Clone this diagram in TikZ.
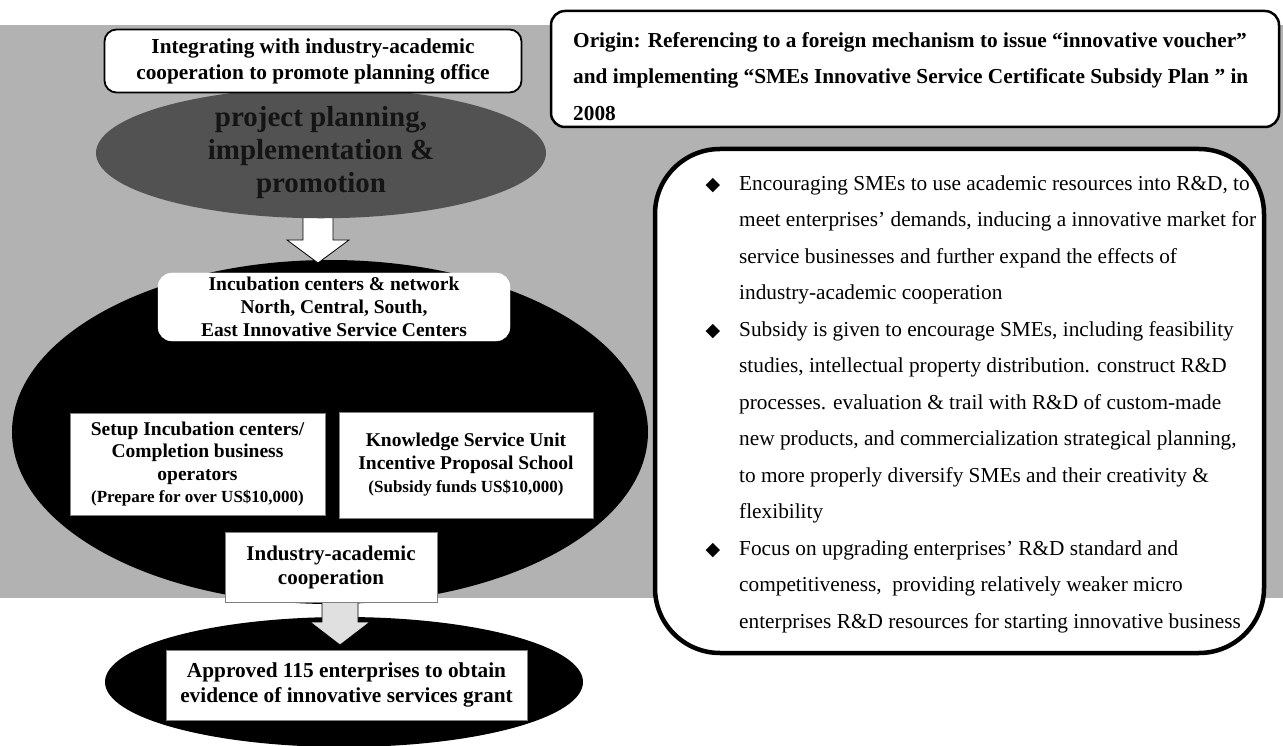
\documentclass[tikz,border=0pt]{standalone}
\usepackage{fontspec}
\setmainfont{Liberation Serif}
\newfontfamily\symfont{DejaVu Sans}
\usetikzlibrary{shapes.geometric}
\newcommand\myfs[2]{\fontsize{#1}{#2}\selectfont}
\newcommand\bul{\llap{{\symfont\fontsize{19}{19}\selectfont ◆}\hspace{19pt}}}
\newcommand\apo{\symbol{"0027}}
\begin{document}
\begin{tikzpicture}[x=1pt,y=-1pt,
  box/.style={draw=black, fill=white, align=center, inner sep=0pt, font=\bfseries},
  blockarrow/.style={draw=black, line width=0.8pt, line join=miter},
  darkell/.style={ellipse, inner sep=0pt, fill=black}]
\useasboundingbox (0,0) rectangle (1283,746);
\fill[white] (0,0) rectangle (1283,746);
% halftone background
\fill[black!30] (0,25) rectangle (1283,598);
% big black ellipse
\node[darkell, minimum width=636pt, minimum height=344pt] (incell) at (330,432) {};
% arrow 1
\coordinate (a1) at (318,205);
\draw[blockarrow, fill=white] (a1) ++(-15,0) -- ++(30,0) -- ++(0,35) -- ++(16,0) -- (318,263) -- (287,240) -- ++(16,0) -- cycle;
% planning ellipse
\node[darkell, fill=black!68, minimum width=450pt, minimum height=124pt, align=center,
      font=\bfseries\myfs{29}{33}, text=black!92] (plan) at (321,153)
  {project planning,\\implementation \&\\promotion};
% top box
\node[box, rounded corners=12pt, line width=1.8pt, minimum width=417pt, minimum height=63pt,
      font=\bfseries\myfs{21.3}{26}] (integ) at (313,61)
  {Integrating with industry-academic\\cooperation to promote planning office};
% incubation box
\node[box, draw=white, rounded corners=14pt, minimum width=352pt, minimum height=68pt,
      font=\bfseries\myfs{19.5}{23}] (incub) at (334,307)
  {Incubation centers \& network\\North, Central, South,\\East Innovative Service Centers};
% setup box
\node[box, draw=black!50, minimum width=255pt, minimum height=102pt,
      font=\bfseries\myfs{19.5}{22.5}] (setup) at (197.5,464)
  {Setup Incubation centers/\\Completion business\\operators\\{\myfs{17}{21}(Prepare for over US\$10,000)}};
% knowledge box
\node[box, draw=black!50, minimum width=254pt, minimum height=106pt,
      font=\bfseries\myfs{19.5}{23}] (know) at (466,465)
  {Knowledge Service Unit\\Incentive Proposal School\\{\myfs{17}{21}(Subsidy funds US\$10,000)}};
% bottom ellipse
\node[darkell, minimum width=478pt, minimum height=130pt] (resell) at (344,682) {};
% arrow 2
\coordinate (a2) at (340,602);
\draw[blockarrow, fill=black!12] (a2) ++(-18,0) -- ++(36,0) -- ++(0,20) -- ++(12,0) -- (340,645) -- (310,622) -- ++(12,0) -- cycle;
% industry box
\node[box, draw=black!50, minimum width=212pt, minimum height=70pt,
      font=\bfseries\myfs{21}{24}] (indus) at (331,567)
  {Industry-academic\\cooperation};
% result box
\node[box, draw=black!50, minimum width=361pt, minimum height=70pt,
      font=\bfseries\myfs{21.3}{25}] (result) at (346.5,685)
  {Approved 115 enterprises to obtain\\evidence of innovative services grant};
% origin box
\node[draw=black, fill=white, line width=2.5pt, rounded corners=14pt,
      minimum width=728pt, minimum height=116pt, inner sep=0pt] (origin) at (915,69) {};
\node[anchor=north west, inner sep=0pt, align=left, font=\bfseries\myfs{21.3}{36.5}]
  (origintxt) at (573,31)
  {\rule{0pt}{16pt}Origin: Referencing to a foreign mechanism to issue “innovative voucher”\\
   and implementing “SMEs Innovative Service Certificate Subsidy Plan ” in\\
   2008};
% aims box
\node[draw=black, fill=white, line width=4.5pt, rounded corners=65pt,
      minimum width=609pt, minimum height=504pt, inner sep=0pt] (aims) at (959.5,401) {};
\node[anchor=north west, inner sep=0pt, align=left, font=\myfs{21.3}{36.5}]
  (aimstxt) at (739,174)
  {\rule{0pt}{16pt}\bul Encouraging SMEs to use academic resources into R\&D, to\\
   meet enterprises\apo{} demands, inducing a innovative market for\\
   service businesses and further expand the effects of\\
   industry-academic cooperation\\
   \bul Subsidy is given to encourage SMEs, including feasibility\\
   studies, intellectual property distribution. construct R\&D\\
   processes. evaluation \& trail with R\&D of custom-made\\
   new products, and commercialization strategical planning,\\
   to more properly diversify SMEs and their creativity \&\\
   flexibility\\
   \bul Focus on upgrading enterprises\apo{} R\&D standard and\\
   competitiveness,\ \ providing relatively weaker micro\\
   enterprises R\&D resources for starting innovative business};
\end{tikzpicture}
\end{document}
